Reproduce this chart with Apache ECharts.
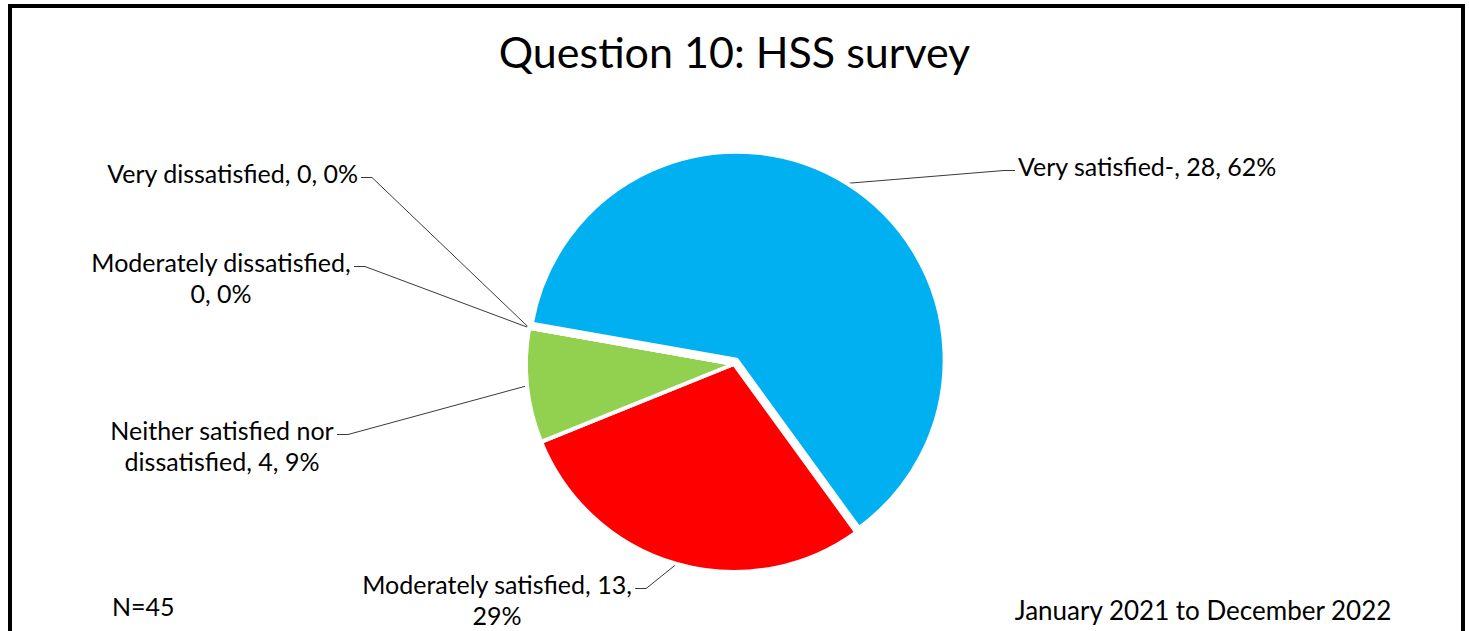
<!DOCTYPE html>
<html lang="en">
<head>
<meta charset="UTF-8"/>
<script src="https://cdn.jsdelivr.net/npm/echarts@6/dist/echarts.min.js"></script>
<title>Question 10: HSS survey</title>
<style>
    html, body { margin: 0; padding: 0; background: #fff; }
    #pie { width: 1469px; height: 631px; }
</style>
</head>
<body>
<div id="pie"></div>
<script type="text/javascript">
    var categories = ['Very satisfied-', 'Moderately satisfied', 'Neither satisfied nor dissatisfied', 'Moderately dissatisfied', 'Very dissatisfied'];
    var counts = [28, 13, 4, 0, 0];
    var sliceColors = ['#00B0F0', '#FF0000', '#92D050', '#FFC000', '#7F7F7F'];
    var titleText = 'Question 10: HSS survey';
    var sampleNote = 'N=45';
    var periodNote = 'January 2021 to December 2022';

    var FONT = 'Lato';
    var LABEL_SIZE = 25;
    var LINE_H = 31;
    var WRAP_W = 278;
    var CENTER = [734, 364];
    var RADIUS = 208;
    var START = 170;
    var EXPLODE = 5;   // pull-out of the first slice, px

    // where each label block goes (x anchor, top y, alignment)
    var labelPlace = [
        {x: 1018, y: 150, align: 'left'},
        {x: 497, y: 568, align: 'center'},
        {x: 222, y: 414, align: 'center'},
        {x: 221, y: 246, align: 'center'},
        {x: 358, y: 157, align: 'right'}
    ];

    // offset of the exploded slice along its middle angle
    var total = counts.reduce(function (a, b) { return a + b; }, 0);
    var midAng = (START - 180 * counts[0] / total) * Math.PI / 180;
    var exDx = Math.cos(midAng) * EXPLODE;
    var exDy = -Math.sin(midAng) * EXPLODE;

    // wrap labels like excel does, keep width of first line for the leader
    var ctx = document.createElement('canvas').getContext('2d');
    ctx.font = LABEL_SIZE + 'px ' + FONT;
    var firstLineW = [];
    function wrapText(str) {
        var words = str.split(' '), lines = [], cur = '';
        words.forEach(function (w) {
            var t = cur ? cur + ' ' + w : w;
            if (cur && ctx.measureText(t).width > WRAP_W) {
                lines.push(cur);
                cur = w;
            } else {
                cur = t;
            }
        });
        lines.push(cur);
        return lines;
    }

    var myChart = echarts.init(document.getElementById('pie'), null, {renderer: 'svg'});
    var option = {
        animation: false,
        backgroundColor: '#fff',
        title: {
            text: titleText,
            left: 'center',
            top: 25,
            textStyle: {fontFamily: FONT, fontSize: 43, fontWeight: 'normal', color: '#000'}
        },
        graphic: [
            {
                type: 'rect', z: -1, silent: true,
                shape: {x: 10, y: 6, width: 1453, height: 680},
                style: {fill: 'none', stroke: '#000', lineWidth: 4}
            },
            {
                type: 'text', x: 112, y: 606,
                style: {text: sampleNote, fontFamily: FONT, fontSize: LABEL_SIZE, fill: '#000', textVerticalAlign: 'middle'}
            },
            {
                type: 'text', x: 1203, y: 610,
                style: {text: periodNote, fontFamily: FONT, fontSize: 26, fill: '#000', textAlign: 'center', textVerticalAlign: 'middle'}
            }
        ],
        series: [
            {
                // exploded first slice only
                type: 'pie',
                silent: true,
                center: [CENTER[0] + exDx, CENTER[1] + exDy],
                radius: RADIUS,
                startAngle: START,
                clockwise: true,
                percentPrecision: 0,
                label: {show: false},
                labelLine: {show: false},
                emphasis: {disabled: true},
                data: categories.map(function (name, i) {
                    return {
                        name: name,
                        value: counts[i],
                        itemStyle: i === 0
                            ? {color: sliceColors[i], borderColor: '#fff', borderWidth: 4}
                            : {color: 'transparent', borderWidth: 0}
                    };
                })
            },
            {
                type: 'pie',
                silent: true,
                center: CENTER,
                radius: RADIUS,
                startAngle: START,
                clockwise: true,
                avoidLabelOverlap: false,
                percentPrecision: 0,
                emphasis: {disabled: true},
                label: {
                    show: true,
                    position: 'outside',
                    fontFamily: FONT,
                    fontSize: LABEL_SIZE,
                    lineHeight: LINE_H,
                    color: '#000',
                    formatter: function (p) {
                        var lines = wrapText(p.name + ', ' + p.value + ', ' + p.percent + '%');
                        firstLineW[p.dataIndex] = ctx.measureText(lines[0]).width;
                        return lines.join('\n');
                    }
                },
                labelLine: {
                    show: true,
                    length: 10,
                    length2: 10,
                    smooth: false,
                    lineStyle: {color: '#3a3a3a', width: 1}
                },
                labelLayout: function (p) {
                    var place = labelPlace[p.dataIndex];
                    var w1 = firstLineW[p.dataIndex] || p.labelRect.width;
                    var midY = place.y + LINE_H / 2 + 5;
                    var edgeX, elbowX;
                    if (place.align === 'left') {
                        edgeX = place.x - 3; elbowX = edgeX - 11;
                    } else if (place.align === 'right') {
                        edgeX = place.x + 3; elbowX = edgeX + 11;
                    } else {
                        edgeX = place.x + w1 / 2 + 3; elbowX = edgeX + 11;
                    }
                    var res = {x: place.x, y: place.y, align: place.align, verticalAlign: 'top'};
                    if (p.labelLinePoints) {
                        var s = p.labelLinePoints[0].slice();
                        if (p.dataIndex === 0) { s[0] += exDx; s[1] += exDy; }
                        res.labelLinePoints = [s, [elbowX, midY], [edgeX, midY]];
                    }
                    return res;
                },
                data: categories.map(function (name, i) {
                    return {
                        name: name,
                        value: counts[i],
                        itemStyle: i === 0
                            ? {color: 'transparent', borderWidth: 0}
                            : {color: sliceColors[i], borderColor: '#fff', borderWidth: 4}
                    };
                })
            }
        ]
    };
    myChart.setOption(option);
</script>
</body>
</html>
